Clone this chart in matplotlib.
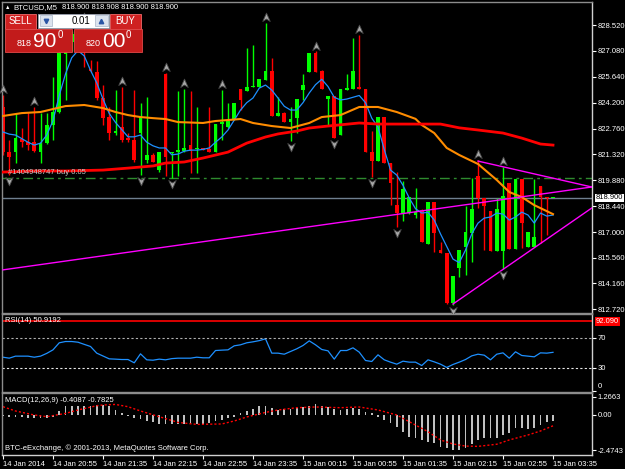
import matplotlib
matplotlib.use("Agg")
import matplotlib.pyplot as plt
import matplotlib.transforms as mtrans
from matplotlib.path import Path
from matplotlib.patches import Rectangle
import numpy as np

plt.rcParams['font.family'] = ['Liberation Sans', 'DejaVu Sans']

W, H = 625, 469

# ---- BTCUSD M5 candles (bar 0 = 14 Jan 20:15) ----
opens = [823.96, 821.45, 821.45, 822.18, 822.01, 822.01, 821.45, 821.95, 822.96, 823.68,
         826.90, 827.60, 828.00, 827.60, 826.10, 825.90, 824.46, 823.40, 822.51, 822.84,
         822.23, 822.12, 822.51, 821.01, 821.29, 820.45, 825.79, 821.40, 821.45, 821.51,
         821.84, 821.62, 821.68, 821.62, 821.45, 823.01, 822.84, 823.23, 824.96, 824.85,
         825.07, 825.07, 825.46, 825.96, 823.46, 823.62, 823.12, 823.34, 824.90, 825.90,
         826.96, 825.96, 824.40, 824.57, 822.40, 824.90, 824.96, 825.07, 824.96, 821.45,
         820.95, 823.40, 820.84, 818.50, 818.06, 818.06, 817.95, 818.23, 816.33, 818.67,
         816.00, 815.83, 813.05, 815.00, 816.17, 816.94, 820.12, 818.89, 818.17, 815.94,
         815.94, 819.73, 816.05, 819.95, 816.17, 816.17, 819.56, 818.95, 818.90]
highs = [824.62, 822.12, 823.60, 822.79, 823.70, 823.96, 823.60, 823.60, 825.63, 827.30,
         828.00, 828.20, 828.30, 828.65, 826.60, 826.50, 825.19, 823.96, 824.90, 825.07,
         822.50, 824.90, 824.18, 824.51, 821.40, 821.45, 825.85, 821.45, 824.85, 824.96,
         824.85, 823.96, 821.70, 823.96, 823.01, 824.90, 824.18, 824.18, 824.96, 827.24,
         827.41, 825.52, 828.65, 826.68, 824.51, 823.70, 823.96, 824.40, 825.79, 826.96,
         827.05, 826.00, 824.57, 824.57, 824.96, 825.79, 827.80, 827.96, 824.96, 822.62,
         823.40, 823.40, 820.84, 820.34, 819.84, 818.95, 819.45, 818.30, 818.67, 818.67,
         816.44, 815.83, 814.55, 816.00, 818.45, 820.01, 821.01, 818.89, 818.20, 818.89,
         820.62, 819.73, 819.95, 819.95, 817.00, 819.95, 819.56, 818.95, 818.908]
lows = [821.29, 820.20, 820.84, 821.73, 821.56, 821.45, 820.84, 821.90, 822.12, 823.60,
        824.35, 827.10, 827.20, 826.20, 825.90, 824.35, 822.96, 822.12, 822.40, 822.01,
        822.01, 820.90, 820.17, 820.84, 820.90, 820.34, 820.10, 820.00, 820.10, 821.45,
        820.28, 820.28, 821.55, 821.45, 821.45, 822.12, 822.79, 823.23, 823.79, 824.85,
        825.07, 825.07, 825.46, 823.46, 823.46, 823.12, 822.06, 822.51, 824.35, 825.90,
        825.90, 824.96, 822.90, 822.23, 822.40, 824.90, 824.96, 824.96, 821.45, 820.06,
        820.95, 820.84, 818.50, 817.30, 817.60, 818.00, 817.78, 816.44, 816.33, 815.89,
        815.83, 813.02, 812.95, 814.50, 814.61, 815.33, 818.34, 816.00, 815.94, 815.94,
        814.94, 816.05, 816.05, 816.11, 816.17, 816.17, 816.39, 816.83, 818.90]
closes = [821.45, 821.17, 822.23, 822.01, 821.84, 821.51, 821.95, 822.96, 823.68, 826.96,
          827.60, 828.00, 827.50, 827.00, 825.96, 824.46, 823.34, 822.51, 822.62, 822.12,
          822.12, 821.01, 823.40, 821.29, 820.90, 821.45, 821.17, 821.45, 821.56, 821.68,
          821.51, 821.68, 821.56, 821.45, 823.01, 823.12, 823.18, 824.18, 824.35, 825.07,
          825.13, 825.52, 825.96, 823.46, 823.62, 823.12, 823.29, 824.40, 825.18, 826.96,
          825.90, 824.96, 824.57, 822.23, 824.96, 825.01, 825.96, 824.96, 821.45, 820.95,
          823.40, 820.84, 819.73, 818.06, 819.39, 818.95, 818.11, 816.44, 818.67, 816.94,
          815.83, 813.05, 814.55, 816.00, 817.00, 818.28, 818.89, 818.45, 815.94, 818.28,
          819.00, 816.05, 819.95, 817.50, 817.00, 816.72, 818.95, 818.90, 818.90]

# moving averages (bar index, price)
ma_fast = [822.57, 822.45, 822.40, 822.20, 822.00, 821.84, 821.95, 822.40, 823.20, 824.60,
           825.80, 826.70, 827.10, 826.80, 826.00, 825.30, 824.40, 823.60, 823.10, 822.70,
           822.30, 822.30, 822.40, 822.00, 821.80, 821.68, 821.68, 821.30, 821.34, 821.50,
           821.56, 821.56, 821.60, 821.68, 822.00, 822.29, 822.68, 823.23, 823.79, 824.20,
           824.46, 825.01, 825.18, 824.90, 824.46, 824.00, 823.79, 823.79, 824.20, 824.74,
           825.20, 825.50, 825.10, 824.50, 824.35, 824.40, 824.50, 824.60, 824.20, 823.34,
           822.84, 821.60, 820.45, 820.17, 819.60, 818.90, 818.30, 818.06, 818.10, 817.67,
           816.90, 816.20, 815.50, 815.30, 816.00, 816.90, 817.50, 817.78, 817.84, 818.06,
           818.00, 817.67, 817.84, 818.11, 817.95, 817.50, 818.06, 817.89, 817.95]
ma_mid_bars = [0, 3, 6, 10, 13, 16, 18, 20, 22, 24, 26, 28, 32, 34, 38, 40, 43, 46, 49, 51,
               54, 57, 60, 63, 66, 67, 69, 71, 73, 76, 79, 81, 83, 85, 88]
ma_mid = [823.46, 823.62, 823.68, 824.01, 824.07, 823.90, 823.68, 823.51, 823.40, 823.34,
          823.29, 823.12, 823.07, 823.18, 823.29, 823.07, 822.90, 822.79, 823.07, 823.40,
          823.51, 823.96, 823.96, 823.68, 823.30, 822.96, 822.51, 821.68, 821.29, 820.79,
          819.90, 819.23, 818.95, 818.50, 818.00]
ma_slow_bars = [0, 5, 10, 16, 20, 24, 26, 29, 32, 36, 39, 42, 44, 47, 49, 52, 57, 60, 70,
                73, 76, 80, 83, 86, 88]
ma_slow = [820.34, 820.40, 820.40, 820.45, 820.56, 820.68, 820.84, 820.90, 821.12, 821.45,
           821.95, 822.29, 822.46, 822.62, 822.79, 822.90, 823.07, 823.01, 823.01, 822.80,
           822.68, 822.51, 822.23, 821.90, 821.84]

frac_up = [0, 5, 13, 19, 26, 29, 35, 42, 50, 57, 76, 80]
frac_dn = [1, 22, 27, 46, 53, 59, 63, 72, 80]

# trend lines (bar, price) pairs
trend_long = ([0, 94.2], [814.90, 819.51])
trend_top = ([76, 94.2], [820.95, 819.51])
trend_bot = ([72, 94.2], [813.00, 818.34])
order_price = 820.00
bid = 818.90

price_ticks = [828.52, 827.08, 825.64, 824.20, 822.76, 821.32, 819.88, 818.44,
               817.00, 815.56, 814.16, 812.72]

rsi = [44.4, 43.1, 45.8, 45.8, 45.8, 44.4, 45.8, 49.5, 54.2, 63.6,
       65.3, 65.3, 64.4, 61.5, 58.7, 49.8, 46.0, 42.2, 41.8, 41.3,
       41.3, 36.9, 48.9, 40.9, 40.4, 41.8, 40.9, 42.5, 43.1, 43.1,
       43.1, 44.4, 43.6, 43.6, 53.3, 53.8, 54.2, 59.6, 60.9, 63.6,
       64.9, 66.5, 68.9, 49.8, 49.8, 48.4, 52.0, 55.6, 60.0, 66.2,
       60.9, 54.7, 52.9, 41.8, 53.3, 53.3, 56.9, 51.1, 40.0, 38.7,
       47.6, 40.9, 37.8, 35.1, 39.1, 37.8, 37.8, 33.3, 40.9, 38.2,
       35.1, 30.7, 34.7, 37.8, 41.3, 46.2, 48.4, 47.1, 40.9, 48.4,
       50.2, 43.1, 51.6, 46.7, 45.8, 44.9, 50.2, 49.8, 50.9]

macd = [-0.09, -0.14, -0.14, -0.19, -0.26, -0.26, -0.26, -0.26, -0.19, 0.26,
        0.63, 0.63, 0.63, 0.63, 0.63, 0.68, 0.68, 0.63, 0.33, 0.09,
        -0.09, -0.26, -0.30, -0.44, -0.54, -0.65, -0.65, -0.65, -0.65, -0.65,
        -0.65, -0.65, -0.65, -0.61, -0.44, -0.37, -0.26, -0.14, 0.09, 0.26,
        0.40, 0.58, 0.63, 0.49, 0.33, 0.40, 0.40, 0.44, 0.56, 0.63,
        0.72, 0.63, 0.56, 0.40, 0.33, 0.40, 0.49, 0.40, 0.21, 0.09,
        -0.14, -0.37, -0.61, -0.84, -1.19, -1.54, -1.65, -1.77, -1.89, -2.00,
        -2.25, -2.35, -2.47, -2.45, -2.35, -2.07, -1.77, -1.61, -1.61, -1.61,
        -1.42, -1.31, -0.96, -0.96, -1.00, -0.96, -0.72, -0.54, -0.41]
sig_bars = [0, 2, 5, 7, 10, 12, 15, 16, 18, 20, 22, 25, 28, 31, 35, 37, 39, 42, 44, 47,
            50, 54, 57, 60, 63, 65, 68, 70, 72, 74, 76, 79, 81, 84, 86, 88]
signal = [0.56, 0.26, -0.02, -0.14, 0.09, 0.33, 0.63, 0.68, 0.72, 0.56, 0.26, -0.14,
          -0.54, -0.68, -0.65, -0.44, -0.16, 0.16, 0.33, 0.49, 0.54, 0.49, 0.54, 0.33,
          -0.02, -0.49, -1.19, -1.77, -2.05, -2.20, -2.22, -2.07, -1.77, -1.42, -1.14, -0.78]

time_ticks = list(range(0, 89, 8))
time_labels = ['14 Jan 2014', '14 Jan 20:55', '14 Jan 21:35', '14 Jan 22:15',
               '14 Jan 22:55', '14 Jan 23:35', '15 Jan 00:15', '15 Jan 00:55',
               '15 Jan 01:35', '15 Jan 02:15', '15 Jan 02:55', '15 Jan 03:35']

FS = 5.5
fig = plt.figure(figsize=(W / 100, H / 100), dpi=100, facecolor='black')


def px_axes(x0, y0, x1, y1):
    return fig.add_axes([x0 / W, 1 - y1 / H, (x1 - x0) / W, (y1 - y0) / H])


def style(a):
    a.set_facecolor('black')
    for s in a.spines.values():
        s.set_color('#8c8c8c')
        s.set_linewidth(1)
    a.spines['right'].set_color('#d0d0d0')
    a.yaxis.tick_right()
    a.tick_params(axis='y', colors='white', length=3, width=0.8, pad=1.2, labelsize=FS)
    a.tick_params(axis='x', bottom=False, labelbottom=False)
    a.set_xlim(-0.16, 94.24)


ax = px_axes(2, 2, 592, 313)
rax = px_axes(2, 314, 592, 392)
max_ = px_axes(2, 393, 592, 455)
for a in (ax, rax, max_):
    style(a)

# ---- main price window ----
o, h, l, c = map(np.array, (opens, highs, lows, closes))
xb = np.arange(len(o))
col = np.where(c >= o, '#00ff00', '#ff0000')
ax.vlines(xb, l, h, colors=col, lw=1, zorder=2)
ax.bar(xb, np.maximum(np.abs(c - o), 0.06), bottom=np.minimum(o, c), width=0.62,
       color=col, linewidth=0, zorder=2)

ax.axhline(order_price, color='#2e8b2e', lw=1, ls=(0, (7, 3, 2, 3)), zorder=1)
ax.axhline(bid, color='#6f7f8f', lw=1, zorder=1)

ax.plot(np.arange(len(ma_fast)), ma_fast, color='#1e90ff', lw=0.9, zorder=3)
ax.plot(ma_mid_bars, ma_mid, color='#ff8c00', lw=1.5, zorder=3)
ax.plot(ma_slow_bars, ma_slow, color='#ff0000', lw=2, zorder=3)

for xs, ys in (trend_long, trend_top, trend_bot):
    ax.plot(xs, ys, color='#ff00ff', lw=1, zorder=4)

arrow = Path([(0, 1), (0.85, -0.9), (0, -0.35), (-0.85, -0.9), (0, 1)],
             [Path.MOVETO, Path.LINETO, Path.LINETO, Path.LINETO, Path.CLOSEPOLY])
arrow_dn = Path(arrow.vertices * [1, -1], arrow.codes)
ax.scatter(frac_up, h[frac_up] + 0.33, marker=arrow, s=40, c='#a8a8a8',
           edgecolors='#4a4a4a', linewidths=0.6, zorder=5, clip_on=False)
ax.scatter(frac_dn, l[frac_dn] - 0.33, marker=arrow_dn, s=40, c='#a8a8a8',
           edgecolors='#4a4a4a', linewidths=0.6, zorder=5, clip_on=False)

ax.set_ylim(812.50, 829.80)
ax.set_yticks(price_ticks)
ax.set_yticklabels([f'{v:.3f}' for v in price_ticks])
ax.annotate(f'{bid:.3f}', xy=(1, bid), xycoords=mtrans.blended_transform_factory(ax.transAxes, ax.transData),
            xytext=(2.5, 0), textcoords='offset points', ha='left', va='center', fontsize=FS,
            color='black', bbox=dict(boxstyle='square,pad=0.12', fc='white', ec='none'),
            annotation_clip=False)

# ---- RSI window ----
rax.plot(np.arange(len(rsi)), rsi, color='#1e90ff', lw=0.9)
rax.axhline(70, color='#b0b0b0', lw=0.8, ls=(0, (2, 2)))
rax.axhline(30, color='#e8e8e8', lw=0.8, ls=(0, (2, 2)))
rax.axhline(92.09, color='#ff0000', lw=1.2)
rax.set_ylim(-2, 102)
rax.set_yticks([0, 30, 70])
rax.set_yticklabels(['0', '30', '70'])
rax.get_yticklabels()[0].set_va('bottom')
rax.annotate('92.090', xy=(1, 92.09), xycoords=mtrans.blended_transform_factory(rax.transAxes, rax.transData),
             xytext=(2.5, 0), textcoords='offset points', ha='left', va='center', fontsize=FS,
             color='white', bbox=dict(boxstyle='square,pad=0.12', fc='#ff0000', ec='none'),
             annotation_clip=False)

# ---- MACD window ----
max_.bar(np.arange(len(macd)), macd, width=0.3, color='#c0c0c0', linewidth=0)
max_.plot(sig_bars, signal, color='#ff0000', lw=1, ls=(0, (1.5, 1.5)))
max_.set_ylim(-2.824, 1.52)
max_.set_yticks([1.2663, 0.0, -2.4743])
max_.set_yticklabels(['1.2663', '0.00', '-2.4743'])
max_.spines['bottom'].set_color('#d0d0d0')
max_.set_xticks(time_ticks)
max_.set_xticklabels(time_labels)
max_.tick_params(axis='x', bottom=True, labelbottom=True, colors='white', length=3,
                 width=0.8, pad=1.5, labelsize=FS)
for t in max_.get_xticklabels():
    t.set_ha('left')

# ---- overlay: header, trade panel and window captions ----
ov = fig.add_axes([0, 0, 1, 1], zorder=10)
ov.set_xlim(0, W)
ov.set_ylim(H, 0)
ov.axis('off')
ov.patch.set_alpha(0)

ov.text(5, 7.5, '▲', fontsize=4, color='white', va='center')
ov.text(13, 7.5, 'BTCUSD,M5', fontsize=FS, color='white', va='center')
ov.text(62, 7.5, '818.900 818.908 818.900 818.900', fontsize=FS, color='white', va='center')

red_btn = '#cf2121'
red_blk = '#c21b1b'
for x0, w in ((5, 31), (110, 31)):
    ov.add_patch(Rectangle((x0, 14), w, 15, fc=red_btn, ec='#ee6a6a', lw=0.6))
for x0, w in ((5, 67), (74, 68)):
    ov.add_patch(Rectangle((x0, 29), w, 23, fc=red_blk, ec='#e04848', lw=0.6))
ov.add_patch(Rectangle((38, 14), 71, 14, fc='white', ec='#9aa0b0', lw=0.6))
ov.add_patch(Rectangle((39.5, 15.5), 12.5, 11, fc='#dce3ee', ec='#a8b4c8', lw=0.5))
ov.add_patch(Rectangle((95, 15.5), 12.5, 11, fc='#dce3ee', ec='#a8b4c8', lw=0.5))
ov.plot([45.7], [21], marker='v', ms=3.2, color='#2a55a5')
ov.plot([101.2], [21], marker='^', ms=3.2, color='#2a55a5')
ov.text(20.5, 21.5, 'SELL', ha='center', va='center', fontsize=7, color='white')
ov.text(125.5, 21.5, 'BUY', ha='center', va='center', fontsize=7, color='white')
ov.text(90, 21.5, '0.01', ha='right', va='center', fontsize=7, color='black')

ov.text(17, 46.5, '818', fontsize=6.5, color='white', va='baseline')
ov.text(33.5, 47, '90', fontsize=15, color='white', va='baseline')
ov.text(58, 38.5, '0', fontsize=7, color='white', va='baseline')
ov.text(86, 46.5, '820', fontsize=6.5, color='white', va='baseline')
ov.text(102.5, 47, '00', fontsize=15, color='white', va='baseline')
ov.text(126, 38.5, '0', fontsize=7, color='white', va='baseline')

ov.text(8, 172.5, '#1404948747 buy 0.05', fontsize=5.5, color='#c8c8c8', va='center')
ov.text(5, 321, 'RSI(14) 50.9192', fontsize=FS, color='white', va='center')
ov.text(5, 400.5, 'MACD(12,26,9) -0.4087 -0.7825', fontsize=FS, color='white', va='center')
ov.text(5, 448, 'BTC-eExchange, © 2001-2013, MetaQuotes Software Corp.', fontsize=FS,
        color='white', va='center')

fig.savefig('out.png', dpi=100, facecolor='black')
